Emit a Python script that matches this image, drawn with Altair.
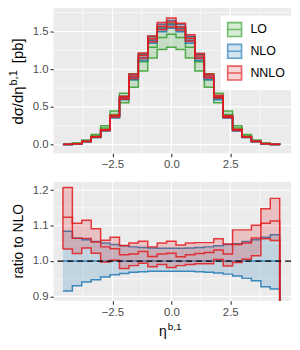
import altair as alt
import pandas as pd

ORDERS = ["LO", "NLO", "NNLO"]
COLORS = ["#33a02c", "#1f78b4", "#e31a1c"]
KEY_FILLS = ["#c6e4c4", "#c0d9ea", "#f3c6c6"]

# left edges of the 23 eta bins, and the right edge of the last one
BIN_LEFT = [-4.6, -4.2, -3.8, -3.4, -3.0, -2.6, -2.2, -1.8, -1.4, -1.0, -0.6, -0.2,
            0.2, 0.6, 1.0, 1.4, 1.8, 2.2, 2.6, 3.0, 3.4, 3.8, 4.2]
BIN_END = 4.6

# LO absolute [pb]
LO_LOW = [0.003, 0.013, 0.040, 0.095, 0.190, 0.360, 0.555, 0.760, 0.975, 1.150, 1.260, 1.290,
          1.260, 1.150, 0.975, 0.760, 0.555, 0.360, 0.190, 0.095, 0.040, 0.013, 0.003]
LO_CEN = [0.004, 0.017, 0.050, 0.115, 0.220, 0.400, 0.620, 0.860, 1.100, 1.290, 1.420, 1.465,
          1.420, 1.290, 1.100, 0.860, 0.620, 0.400, 0.220, 0.115, 0.050, 0.017, 0.004]
LO_UPP = [0.006, 0.021, 0.060, 0.135, 0.250, 0.445, 0.680, 0.940, 1.210, 1.430, 1.560, 1.605,
          1.560, 1.430, 1.210, 0.940, 0.680, 0.445, 0.250, 0.135, 0.060, 0.021, 0.006]
# NLO central absolute [pb]
NLO_CEN = [0.003, 0.012, 0.040, 0.100, 0.188, 0.366, 0.615, 0.890, 1.150, 1.385, 1.540, 1.590,
           1.540, 1.385, 1.150, 0.890, 0.615, 0.366, 0.188, 0.100, 0.040, 0.012, 0.003]
# ratios to NLO central
NLO_LOW_R = [0.915, 0.930, 0.941, 0.947, 0.955, 0.961, 0.965, 0.968, 0.970, 0.971, 0.971, 0.971,
             0.971, 0.971, 0.970, 0.968, 0.966, 0.963, 0.958, 0.951, 0.944, 0.927, 0.921]
NLO_UPP_R = [1.084, 1.065, 1.060, 1.055, 1.051, 1.047, 1.043, 1.040, 1.038, 1.037, 1.036, 1.036,
             1.036, 1.037, 1.038, 1.040, 1.043, 1.047, 1.049, 1.055, 1.060, 1.067, 1.074]
NNLO_LOW_R = [1.034, 1.021, 1.037, 1.022, 0.997, 1.002, 0.979, 0.987, 0.994, 0.984, 0.990, 0.982,
              0.987, 0.990, 0.992, 0.992, 1.004, 0.986, 0.996, 1.005, 1.015, 1.063, 1.058]
NNLO_CEN_R = [1.124, 1.064, 1.064, 1.054, 1.040, 1.035, 1.018, 1.020, 1.027, 1.013, 1.020, 1.022,
              1.012, 1.018, 1.021, 1.024, 1.031, 1.020, 1.047, 1.051, 1.065, 1.107, 1.113]
NNLO_UPP_R = [1.208, 1.107, 1.115, 1.091, 1.059, 1.067, 1.044, 1.051, 1.056, 1.040, 1.051, 1.056,
              1.045, 1.051, 1.052, 1.052, 1.063, 1.048, 1.088, 1.088, 1.101, 1.148, 1.177]

X_TICKS = [-2.5, 0.0, 2.5]
X_MINOR = [-3.75, -1.25, 1.25, 3.75]
TOP_Y_TICKS = [0.0, 0.5, 1.0, 1.5]
TOP_Y_MINOR = [0.25, 0.75, 1.25, 1.75]
RAT_Y_TICKS = [0.9, 1.0, 1.1, 1.2]
RAT_Y_MINOR = [0.95, 1.05, 1.15]
REF_LINE = [1.0]

TOP_Y_TITLE = ["dσ/dη", "b,1", "[pb]"]
RAT_Y_TITLE = "ratio to NLO"
X_TITLE = ["η", "b,1"]

FONT = "Liberation Sans"
W = 240
H_TOP = 147
H_RAT = 120
X_DOMAIN = [-5.0, 5.08]
TOP_DOMAIN = [-0.114, 1.815]
RAT_DOMAIN = [0.888, 1.2235]

KEY_PATH = "M-1,-1L1,-1L1,1L-1,1Z M-1,0L1,0"


def mul(a, b):
    return [u * v for u, v in zip(a, b)]


def band_df(low, upp):
    xs = BIN_LEFT + [BIN_END]
    return pd.DataFrame({"x": xs, "low": low + [low[-1]], "upp": upp + [upp[-1]]})


def line_df(low, cen, upp):
    xs = BIN_LEFT + [BIN_END]
    frames = []
    for name, vals in (("low", low), ("cen", cen), ("upp", upp)):
        frames.append(pd.DataFrame({"x": xs, "y": vals + [0.0], "s": name}))
    return pd.concat(frames, ignore_index=True)


def xenc(field="x"):
    return alt.X(f"{field}:Q", scale=alt.Scale(domain=X_DOMAIN, nice=False, zero=False),
                 axis=alt.Axis(values=X_TICKS, format=".1f", title=None))


def yenc(field, domain, ticks):
    return alt.Y(f"{field}:Q", scale=alt.Scale(domain=domain, nice=False, zero=False),
                 axis=alt.Axis(values=ticks, format=".1f", title=None))


def grid_layers(ydomain, yticks, yminor):
    vmin = alt.Chart(pd.DataFrame({"g": X_MINOR})).mark_rule(color="white", strokeWidth=0.6).encode(x=xenc("g"))
    vmaj = alt.Chart(pd.DataFrame({"g": X_TICKS})).mark_rule(color="white", strokeWidth=1.2).encode(x=xenc("g"))
    hmin = alt.Chart(pd.DataFrame({"g": yminor})).mark_rule(color="white", strokeWidth=0.6).encode(
        y=yenc("g", ydomain, yticks))
    hmaj = alt.Chart(pd.DataFrame({"g": yticks})).mark_rule(color="white", strokeWidth=1.2).encode(
        y=yenc("g", ydomain, yticks))
    return [vmin, vmaj, hmin, hmaj]


def order_layers(color, low, cen, upp, ydomain, yticks):
    area = alt.Chart(band_df(low, upp)).mark_area(
        interpolate="step-after", color=color, fillOpacity=0.2, clip=True).encode(
        x=xenc(), y=yenc("low", ydomain, yticks), y2="upp:Q")
    lines = alt.Chart(line_df(low, cen, upp)).mark_line(
        interpolate="step-after", color=color, strokeWidth=1.5, strokeOpacity=0.85, clip=True).encode(
        x=xenc(), y=yenc("y", ydomain, yticks), detail="s:N")
    return [area, lines]


def rot_text(text, x, y, size, align="left"):
    return alt.Chart(pd.DataFrame({"t": [0]})).mark_text(
        text=text, angle=270, align=align, baseline="alphabetic", font=FONT, fontSize=size,
        color="black").encode(x=alt.value(x), y=alt.value(y))


# ---- top panel ----
nlo_abs = [mul(NLO_LOW_R, NLO_CEN), NLO_CEN, mul(NLO_UPP_R, NLO_CEN)]
nnlo_abs = [mul(NNLO_LOW_R, NLO_CEN), mul(NNLO_CEN_R, NLO_CEN), mul(NNLO_UPP_R, NLO_CEN)]

top_layers = grid_layers(TOP_DOMAIN, TOP_Y_TICKS, TOP_Y_MINOR)
top_layers += order_layers(COLORS[0], LO_LOW, LO_CEN, LO_UPP, TOP_DOMAIN, TOP_Y_TICKS)
top_layers += order_layers(COLORS[1], *nlo_abs, TOP_DOMAIN, TOP_Y_TICKS)
top_layers += order_layers(COLORS[2], *nnlo_abs, TOP_DOMAIN, TOP_Y_TICKS)

legend = alt.Legend(title=None, orient="none", legendX=169, legendY=8, fillColor="white",
                    padding=6, symbolType=KEY_PATH, symbolSize=196, symbolStrokeWidth=1.6,
                    labelFont=FONT, labelFontSize=12.5, labelColor="black", labelOffset=8,
                    rowPadding=0)
legend_layer = alt.Chart(pd.DataFrame({"order": ORDERS})).mark_point(
    shape=KEY_PATH, filled=True, size=0, strokeWidth=1.6).encode(
    x=alt.value(10), y=alt.value(10),
    fill=alt.Fill("order:N", scale=alt.Scale(domain=ORDERS, range=KEY_FILLS), legend=legend),
    stroke=alt.Stroke("order:N", scale=alt.Scale(domain=ORDERS, range=COLORS), legend=legend))
top_layers.append(legend_layer)

top_layers += [rot_text(TOP_Y_TITLE[0], -31, 118, 15),
               rot_text(TOP_Y_TITLE[1], -37, 78.5, 11),
               rot_text(TOP_Y_TITLE[2], -31, 56, 15)]

top = alt.layer(*top_layers).properties(width=W, height=H_TOP)

# ---- ratio panel ----
rat_layers = grid_layers(RAT_DOMAIN, RAT_Y_TICKS, RAT_Y_MINOR)
rat_layers += order_layers(COLORS[1], NLO_LOW_R, [1.0] * len(BIN_LEFT), NLO_UPP_R, RAT_DOMAIN, RAT_Y_TICKS)
rat_layers += order_layers(COLORS[2], NNLO_LOW_R, NNLO_CEN_R, NNLO_UPP_R, RAT_DOMAIN, RAT_Y_TICKS)
edge_df = pd.DataFrame({"x": [BIN_LEFT[0]], "a": [NNLO_UPP_R[0]], "b": [NNLO_LOW_R[0]]})
rat_layers.append(alt.Chart(edge_df).mark_rule(color=COLORS[2], strokeWidth=1.5, strokeOpacity=0.85).encode(
    x=xenc(), y=yenc("a", RAT_DOMAIN, RAT_Y_TICKS), y2="b:Q"))
rat_layers.append(alt.Chart(pd.DataFrame({"r": REF_LINE})).mark_rule(
    color="black", strokeDash=[6, 4], strokeWidth=1.3).encode(y=yenc("r", RAT_DOMAIN, RAT_Y_TICKS)))
rat_layers.append(rot_text(RAT_Y_TITLE, -31, H_RAT / 2, 14, align="center"))
rat_layers.append(alt.Chart(pd.DataFrame({"t": [0]})).mark_text(
    text=X_TITLE[0], align="right", baseline="alphabetic", font=FONT, fontSize=14,
    color="black").encode(x=alt.value(114.5), y=alt.value(156)))
rat_layers.append(alt.Chart(pd.DataFrame({"t": [0]})).mark_text(
    text=X_TITLE[1], align="left", baseline="alphabetic", font=FONT, fontSize=10,
    color="black").encode(x=alt.value(115.5), y=alt.value(150)))

ratio = alt.layer(*rat_layers).properties(width=W, height=H_RAT)

chart = alt.vconcat(top, ratio, spacing=11).properties(
    padding={"left": 0, "top": -3, "right": 0, "bottom": 0}
).configure_view(fill="#EBEBEB", strokeWidth=0).configure_axis(
    labelFont=FONT, labelFontSize=11.5, labelColor="#4D4D4D", tickColor="#333333",
    tickSize=3.5, tickWidth=1.1, labelPadding=2, domain=False, grid=False
)

chart.save("out.html", embed_options={"renderer": "svg", "actions": False})
